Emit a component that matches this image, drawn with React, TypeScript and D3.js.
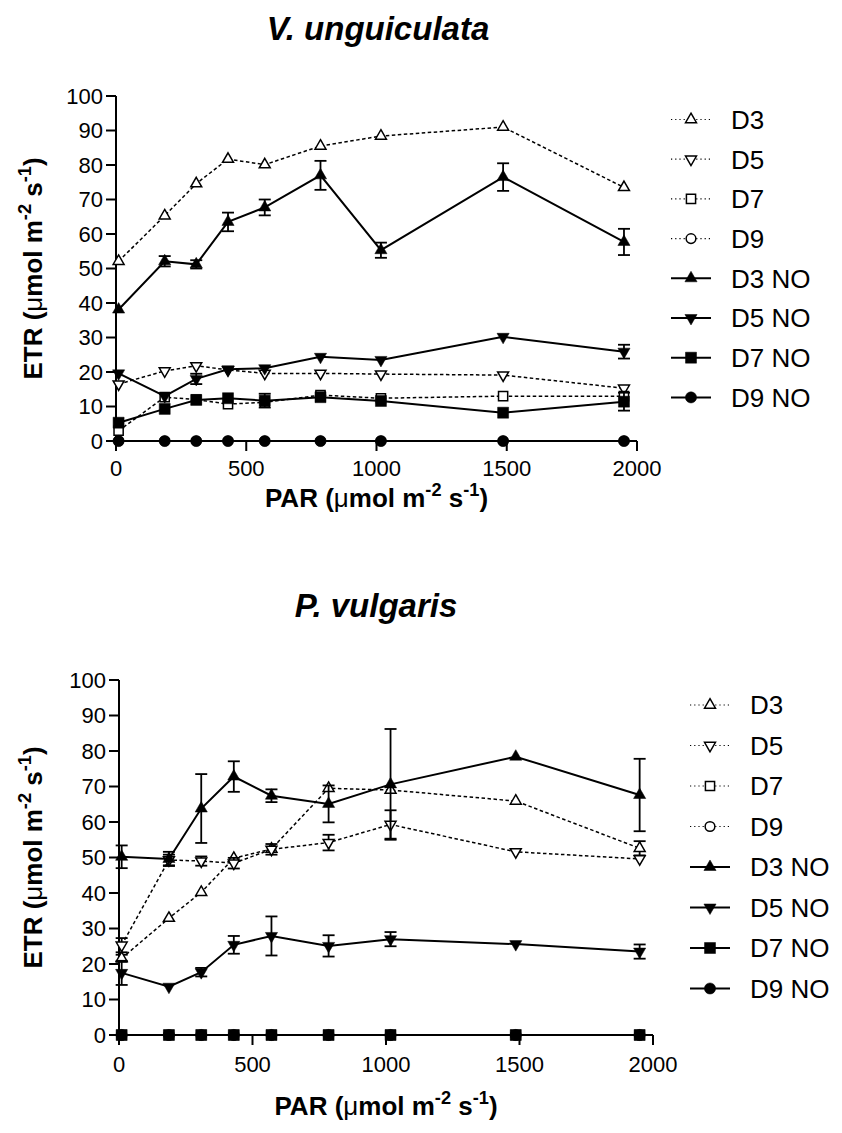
import React from "react";
import * as d3 from "d3";

// ---------- data ----------
const PAR = [10, 187, 308, 430, 571, 785, 1017, 1486, 1950];
const SERIES_NAMES = ["D3", "D5", "D7", "D9", "D3 NO", "D5 NO", "D7 NO", "D9 NO"];
const X_TICKS = [0, 500, 1000, 1500, 2000];
const Y_TICKS = [0, 10, 20, 30, 40, 50, 60, 70, 80, 90, 100];

// V. unguiculata
const vuD3 = [52.1, 65.3, 74.6, 81.7, 80.1, 85.5, 88.4, 91.0, 73.5];
const vuD5 = [16.5, 20.3, 21.8, 20.6, 19.6, 19.6, 19.4, 19.1, 15.3];
const vuD7 = [3.0, 12.7, 12.0, 10.7, 11.2, 13.3, 12.4, 13.0, 13.0];
const vuD9 = [0, 0, 0, 0, 0, 0, 0, 0, 0];
const vuD3NO = [38.1, 52.1, 51.2, 63.5, 67.7, 77.0, 55.3, 76.5, 57.7];
const vuD5NO = [19.6, 13.0, 18.0, 20.8, 21.1, 24.4, 23.5, 30.2, 25.9];
const vuD7NO = [5.3, 9.3, 11.9, 12.4, 11.7, 12.7, 11.6, 8.2, 11.4];
const vuD9NO = [0, 0, 0, 0, 0, 0, 0, 0, 0];
const vuD3NOerr = [0, 1.5, 1.2, 2.7, 2.3, 4.2, 2.2, 4.0, 3.8];
const vuD5NOerr = [0, 0, 1.5, 0, 0, 0, 0, 0, 2.0];
const vuD7NOerr = [0, 0, 0, 0, 2.0, 0, 0, 0, 2.6];
const vuNoErr = [0, 0, 0, 0, 0, 0, 0, 0, 0];

// P. vulgaris
const pvD3 = [21.6, 32.9, 40.2, 49.8, 52.4, 69.5, 69.0, 65.9, 52.6];
const pvD5 = [25.3, 49.3, 49.0, 48.4, 52.3, 54.2, 59.3, 51.6, 49.6];
const pvD7 = [0, 0, 0, 0, 0, 0, 0, 0, 0];
const pvD9 = [0, 0, 0, 0, 0, 0, 0, 0, 0];
const pvD3NO = [50.2, 49.6, 63.8, 72.8, 67.4, 65.1, 70.6, 78.4, 67.6];
const pvD5NO = [17.5, 13.6, 17.7, 25.4, 27.9, 25.1, 27.0, 25.6, 23.5];
const pvD7NO = [0, 0, 0, 0, 0, 0, 0, 0, 0];
const pvD9NO = [0, 0, 0, 0, 0, 0, 0, 0, 0];
const pvD3err = [1.0, 0, 0, 0, 0, 0, 0, 0, 2.0];
const pvD5err = [2.0, 1.5, 1.3, 1.5, 1.5, 2.2, 4.0, 0, 0];
const pvD3NOerr = [3.2, 2.0, 9.7, 4.3, 1.8, 5.2, 15.6, 0, 10.2];
const pvD5NOerr = [3.4, 0, 1.2, 2.5, 5.5, 3.0, 2.0, 0, 2.0];
const pvNoErr = [0, 0, 0, 0, 0, 0, 0, 0, 0];

// ---------- styles ----------
const FONT = "'Liberation Sans', Arial, Helvetica, sans-serif";
type Shape = "up" | "down" | "square" | "circle";
const STYLES: { shape: Shape; filled: boolean; dashed: boolean }[] = [
  { shape: "up", filled: false, dashed: true },
  { shape: "down", filled: false, dashed: true },
  { shape: "square", filled: false, dashed: true },
  { shape: "circle", filled: false, dashed: true },
  { shape: "up", filled: true, dashed: false },
  { shape: "down", filled: true, dashed: false },
  { shape: "square", filled: true, dashed: false },
  { shape: "circle", filled: true, dashed: false },
];

function markerD(shape: Shape, filled: boolean) {
  if (shape === "up" || shape === "down")
    return d3.symbol(d3.symbolTriangle, filled ? 64 : 52)() as string;
  if (shape === "square") return d3.symbol(d3.symbolSquare, filled ? 121 : 84)() as string;
  return d3.symbol(d3.symbolCircle, filled ? 98 : 74)() as string;
}

function Marker({ shape, filled, cx, cy }: { shape: Shape; filled: boolean; cx: number; cy: number }) {
  const rot = shape === "down" ? " rotate(180)" : "";
  return (
    <path
      d={markerD(shape, filled)}
      transform={`translate(${cx},${cy})${rot}`}
      fill={filled ? "#000" : "#fff"}
      stroke="#000"
      strokeWidth={filled ? 0.5 : 1.5}
    />
  );
}

function UnitLabel({ prefix, x, y, rotate, size }: { prefix: string; x: number; y: number; rotate?: boolean; size: number }) {
  const sup = size * 0.7;
  const up = size * 0.42;
  return (
    <text
      x={x}
      y={y}
      transform={rotate ? `rotate(-90 ${x} ${y})` : undefined}
      textAnchor="middle"
      fontFamily={FONT}
      fontWeight="bold"
      fontSize={size}
    >
      <tspan>{prefix + " ("}</tspan>
      <tspan fontWeight="normal">μ</tspan>
      <tspan>mol m</tspan>
      <tspan fontSize={sup} dy={-up}>-2</tspan>
      <tspan dy={up}> s</tspan>
      <tspan fontSize={sup} dy={-up}>-1</tspan>
      <tspan dy={up}>)</tspan>
    </text>
  );
}

type Cfg = {
  x0: number; x1: number; y0: number; y1: number;
  titleX: number; titleY: number; xLabelY: number; yLabelX: number;
  tickLabelDy: number;
  legX: number; legY: number; legStep: number;
};

function Panel({ title, cfg, values, errors }: { title: string; cfg: Cfg; values: number[][]; errors: number[][] }) {
  const x = d3.scaleLinear().domain([0, 2000]).range([cfg.x0, cfg.x1]);
  const y = d3.scaleLinear().domain([0, 100]).range([cfg.y0, cfg.y1]);
  const line = d3
    .line<number>()
    .x((_, i) => x(PAR[i]))
    .y((d) => y(d));
  const tickLen = 10;
  const midY = (cfg.y0 + cfg.y1) / 2;
  const midX = (cfg.x0 + cfg.x1) / 2;
  return (
    <g>
      <text x={cfg.titleX} y={cfg.titleY} textAnchor="middle" fontFamily={FONT} fontWeight="bold" fontStyle="italic" fontSize={33}>
        {title}
      </text>
      {/* axes */}
      <line x1={x(0)} x2={x(2000)} y1={y(0)} y2={y(0)} stroke="#000" strokeWidth={2} />
      <line x1={x(0)} x2={x(0)} y1={y(0)} y2={y(100)} stroke="#000" strokeWidth={2} />
      {Y_TICKS.map((t) => (
        <g key={"y" + t}>
          <line x1={x(0) - tickLen} x2={x(0)} y1={y(t)} y2={y(t)} stroke="#000" strokeWidth={2} />
          <text x={x(0) - tickLen - 3} y={y(t)} dy="0.35em" textAnchor="end" fontFamily={FONT} fontSize={22}>
            {t}
          </text>
        </g>
      ))}
      {X_TICKS.map((t) => (
        <g key={"x" + t}>
          <line x1={x(t)} x2={x(t)} y1={y(0)} y2={y(0) + tickLen} stroke="#000" strokeWidth={2} />
          <text x={x(t)} y={y(0) + tickLen + cfg.tickLabelDy} textAnchor="middle" fontFamily={FONT} fontSize={22}>
            {t}
          </text>
        </g>
      ))}
      <UnitLabel prefix="PAR" x={midX} y={cfg.xLabelY} size={26} />
      <UnitLabel prefix="ETR" x={cfg.yLabelX} y={midY} size={26} rotate />
      {/* series */}
      {values.map((vals, si) => {
        const st = STYLES[si];
        const err = errors[si];
        return (
          <g key={"s" + si}>
            <path
              d={line(vals) as string}
              fill="none"
              stroke="#000"
              strokeWidth={st.dashed ? 1.5 : 2}
              strokeDasharray={st.dashed ? "3.5,2.5" : undefined}
            />
            {vals.map((v, i) =>
              err[i] > 0 ? (
                <g key={"e" + i} stroke="#000" strokeWidth={1.8}>
                  <line x1={x(PAR[i])} x2={x(PAR[i])} y1={y(v - err[i])} y2={y(v + err[i])} />
                  <line x1={x(PAR[i]) - 6} x2={x(PAR[i]) + 6} y1={y(v + err[i])} y2={y(v + err[i])} />
                  <line x1={x(PAR[i]) - 6} x2={x(PAR[i]) + 6} y1={y(v - err[i])} y2={y(v - err[i])} />
                </g>
              ) : null
            )}
            {vals.map((v, i) => (
              <Marker key={"m" + i} shape={st.shape} filled={st.filled} cx={x(PAR[i])} cy={y(v)} />
            ))}
          </g>
        );
      })}
      {/* legend */}
      {SERIES_NAMES.map((name, si) => {
        const st = STYLES[si];
        const ly = cfg.legY + si * cfg.legStep;
        return (
          <g key={"l" + si}>
            <line
              x1={cfg.legX}
              x2={cfg.legX + 40}
              y1={ly}
              y2={ly}
              stroke="#000"
              strokeWidth={st.dashed ? 1.2 : 2}
              strokeDasharray={st.dashed ? "1.2,3" : undefined}
            />
            <Marker shape={st.shape} filled={st.filled} cx={cfg.legX + 20} cy={ly} />
            <text x={cfg.legX + 60} y={ly} dy="0.36em" fontFamily={FONT} fontSize={26}>
              {name}
            </text>
          </g>
        );
      })}
    </g>
  );
}

const TOP: Cfg = { x0: 116, x1: 637, y0: 441, y1: 96, titleX: 378, titleY: 40, xLabelY: 507, yLabelX: 42, tickLabelDy: 25, legX: 671, legY: 119.5, legStep: 39.7 };
const BOTTOM: Cfg = { x0: 119, x1: 653, y0: 1035, y1: 680, titleX: 376, titleY: 617, xLabelY: 1115, yLabelX: 42, tickLabelDy: 27, legX: 690, legY: 705, legStep: 40.5 };

export default function App() {
  return (
    <svg width={842} height={1133} style={{ position: "absolute", left: 0, top: 0, background: "#fff" }}>
      <rect width={842} height={1133} fill="#fff" />
      <Panel
        title="V. unguiculata"
        cfg={TOP}
        values={[vuD3, vuD5, vuD7, vuD9, vuD3NO, vuD5NO, vuD7NO, vuD9NO]}
        errors={[vuNoErr, vuNoErr, vuNoErr, vuNoErr, vuD3NOerr, vuD5NOerr, vuD7NOerr, vuNoErr]}
      />
      <Panel
        title="P. vulgaris"
        cfg={BOTTOM}
        values={[pvD3, pvD5, pvD7, pvD9, pvD3NO, pvD5NO, pvD7NO, pvD9NO]}
        errors={[pvD3err, pvD5err, pvNoErr, pvNoErr, pvD3NOerr, pvD5NOerr, pvNoErr, pvNoErr]}
      />
    </svg>
  );
}
